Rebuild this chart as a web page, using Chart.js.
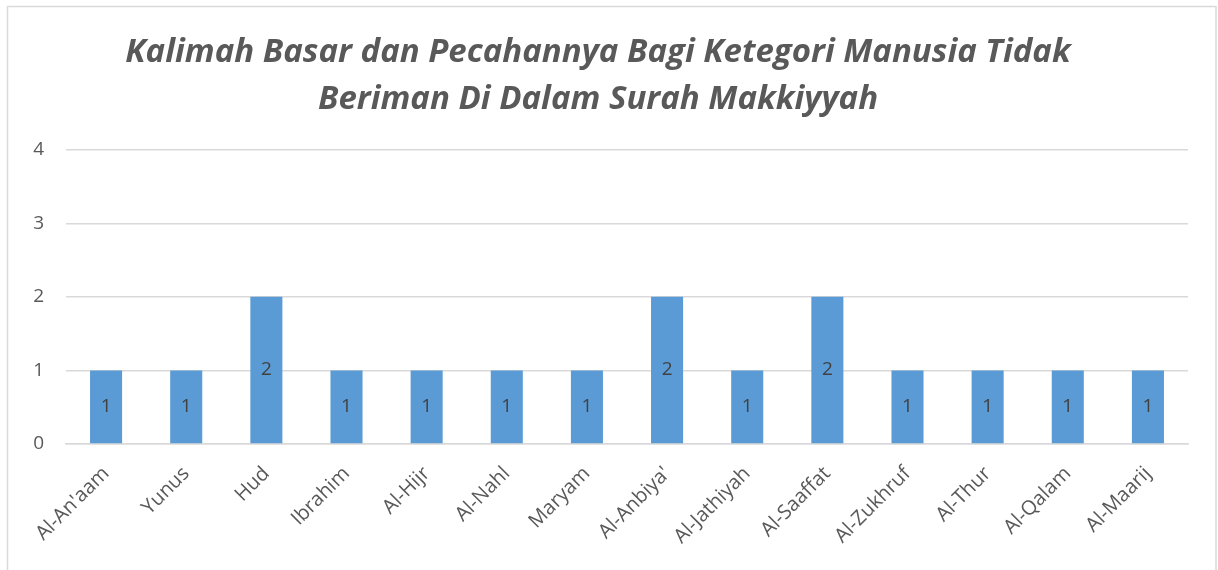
<!DOCTYPE html>
<html>
<head>
<meta charset="utf-8">
<script src="https://cdn.jsdelivr.net/npm/chart.js@4.4.1/dist/chart.umd.min.js"></script>
<style>
  html, body { margin: 0; padding: 0; background: #fff; }
  #wrap { width: 1218px; height: 570px; position: relative; }
</style>
</head>
<body>
<div id="wrap"><canvas id="surahChart" width="1218" height="570"></canvas></div>
<script>
const surahNames = ["Al-An'aam", "Yunus", "Hud", "Ibrahim", "Al-Hijr", "Al-Nahl", "Maryam",
  "Al-Anbiya'", "Al-Jathiyah", "Al-Saaffat", "Al-Zukhruf", "Al-Thur", "Al-Qalam", "Al-Maarij"]
const kalimahCount = [1, 1, 2, 1, 1, 1, 1, 2, 1, 2, 1, 1, 1, 1]
const yTicks = [0, 1, 2, 3, 4]
const titleLines = ['Kalimah Basar dan Pecahannya Bagi Ketegori Manusia Tidak',
  'Beriman Di Dalam Surah Makkiyyah']

const labelFont = "'Open Sans', sans-serif"

// frame around the whole chart, like the office chart border
const frameBorder = {
  id: 'frameBorder',
  beforeDraw(chart) {
    const ctx = chart.ctx
    ctx.save()
    ctx.strokeStyle = '#d9d9d9'
    ctx.lineWidth = 1.5
    ctx.strokeRect(7.5, 6.5, chart.width - 9.5, chart.height + 10)
    ctx.restore()
  }
}

// value inside the middle of every bar
const barValues = {
  id: 'barValues',
  afterDatasetsDraw(chart) {
    const ctx = chart.ctx
    const meta = chart.getDatasetMeta(0)
    ctx.save()
    ctx.fillStyle = '#404040'
    ctx.font = '19px ' + labelFont
    ctx.textAlign = 'center'
    ctx.textBaseline = 'middle'
    meta.data.forEach((bar, i) => {
      const mid = (bar.y + bar.base) / 2
      ctx.fillText(String(kalimahCount[i]), bar.x, mid)
    })
    ctx.restore()
  }
}

const chartConfig = {
  type: 'bar',
  data: {
    labels: surahNames,
    datasets: [{
      label: 'Kalimah Basar',
      data: kalimahCount,
      backgroundColor: '#5b9bd5',
      borderWidth: 0,
      categoryPercentage: 1,
      barPercentage: 0.4
    }]
  },
  options: {
    responsive: false,
    animation: false,
    layout: { padding: { left: 8, right: 30, top: 0, bottom: 0 } },
    plugins: {
      legend: { display: false },
      tooltip: { enabled: false },
      title: {
        display: true,
        text: titleLines,
        color: '#595959',
        font: { family: labelFont, size: 33, weight: 'bold', style: 'italic', lineHeight: 1.42 },
        padding: { top: 29, bottom: 27 }
      }
    },
    scales: {
      x: {
        grid: { display: false },
        border: { color: '#d9d9d9', width: 1.5 },
        ticks: {
          color: '#595959',
          font: { family: labelFont, size: 20 },
          minRotation: 45,
          maxRotation: 45,
          padding: 10
        },
        afterFit(scale) { scale.height = 126 }
      },
      y: {
        min: 0,
        max: 4,
        afterBuildTicks(scale) { scale.ticks = yTicks.map(v => ({ value: v })) },
        grid: { color: '#d9d9d9', lineWidth: 1.5, drawTicks: false },
        border: { display: false },
        ticks: {
          color: '#595959',
          font: { family: labelFont, size: 19 },
          padding: 22
        },
        afterFit(scale) { scale.width = 58 }
      }
    }
  },
  plugins: [frameBorder, barValues]
}

new Chart(document.getElementById('surahChart').getContext('2d'), chartConfig)
</script>
</body>
</html>
